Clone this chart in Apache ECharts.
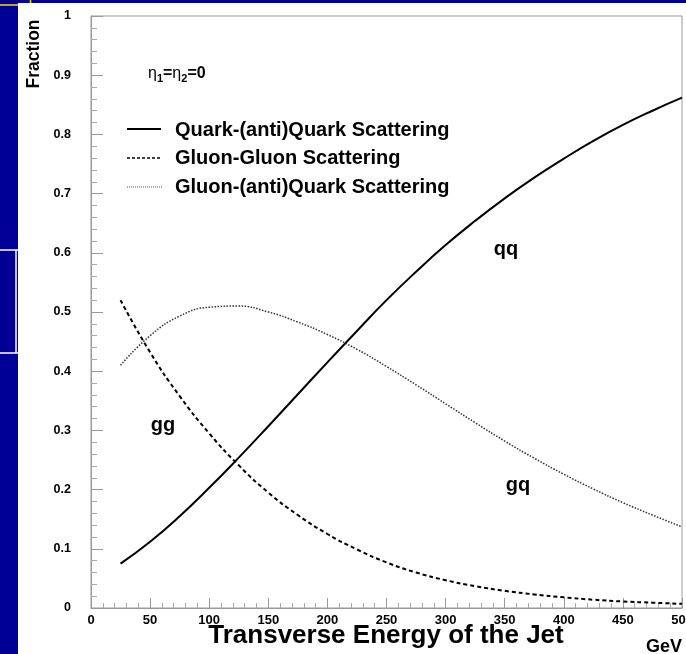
<!DOCTYPE html>
<html>
<head>
<meta charset="utf-8">
<script src="https://cdn.jsdelivr.net/npm/echarts@6/dist/echarts.min.js"></script>
<style>
  html, body { margin: 0; padding: 0; background: #000096; }
  #chart { width: 686px; height: 654px; }
</style>
</head>
<body>
<div id="chart"></div>
<script>
// transverse energy of the jet (GeV)
const energy = [25, 50, 75, 100, 125, 150, 175, 200, 225, 250, 275, 300, 325, 350, 375, 400, 425, 450, 475, 500]
// quark-(anti)quark fraction
const qqFrac = [0.075, 0.112, 0.155, 0.203, 0.254, 0.307, 0.361, 0.415, 0.468, 0.52, 0.568, 0.613, 0.654, 0.692, 0.727, 0.759, 0.789, 0.816, 0.84, 0.862]
// gluon-gluon fraction
const ggFrac = [0.52, 0.432, 0.358, 0.295, 0.241, 0.195, 0.157, 0.125, 0.099, 0.077, 0.06, 0.047, 0.037, 0.029, 0.023, 0.018, 0.014, 0.011, 0.009, 0.007]
// gluon-(anti)quark fraction
const gqFrac = [0.41, 0.46, 0.493, 0.508, 0.51, 0.5, 0.483, 0.462, 0.437, 0.408, 0.377, 0.345, 0.313, 0.282, 0.253, 0.226, 0.201, 0.178, 0.157, 0.137]

const legendNames = ['Quark-(anti)Quark Scattering', 'Gluon-Gluon Scattering', 'Gluon-(anti)Quark Scattering']

const font = 'Liberation Sans, Arial, Helvetica, sans-serif'

const pairs = (ys) => energy.map((x, i) => [x, ys[i]])

const chart = echarts.init(document.getElementById('chart'))

const textStyle = (extra) => Object.assign({
  fontFamily: font,
  fontWeight: 'bold',
  fill: '#000',
}, extra)

const option = {
  backgroundColor: '#000096',
  animation: false,
  grid: {
    left: 91,
    top: 16,
    right: 4,
    bottom: 46,
    containLabel: false,
    outerBoundsMode: 'none',
    show: true,
    backgroundColor: '#fff',
    borderColor: '#999',
    borderWidth: 1,
  },
  xAxis: {
    type: 'value',
    min: 0,
    max: 500,
    interval: 50,
    axisLine: { show: true, lineStyle: { color: '#999' } },
    axisTick: { show: true, inside: true, length: 10, lineStyle: { color: '#999' } },
    minorTick: { show: true, splitNumber: 5, length: 5, lineStyle: { color: '#aaa' } },
    splitLine: { show: false },
    axisLabel: {
      margin: 6,
      color: '#000',
      fontFamily: font,
      fontWeight: 'bold',
      fontSize: 13,
      showMaxLabel: true,
    },
  },
  yAxis: {
    type: 'value',
    min: 0,
    max: 1,
    interval: 0.1,
    axisLine: { show: true, lineStyle: { color: '#999' } },
    axisTick: { show: true, inside: true, length: 12, lineStyle: { color: '#999' } },
    minorTick: { show: true, splitNumber: 5, length: 6, lineStyle: { color: '#aaa' } },
    splitLine: { show: false },
    axisLabel: {
      margin: 20,
      color: '#000',
      fontFamily: font,
      fontWeight: 'bold',
      fontSize: 12.5,
    },
  },
  series: [
    {
      name: legendNames[0],
      type: 'line',
      data: pairs(qqFrac),
      smooth: 0.5,
      symbol: 'none',
      lineStyle: { color: '#000', width: 2 },
    },
    {
      name: legendNames[1],
      type: 'line',
      data: pairs(ggFrac),
      smooth: 0.5,
      symbol: 'none',
      lineStyle: { color: '#000', width: 2, type: [4, 3] },
    },
    {
      name: legendNames[2],
      type: 'line',
      data: pairs(gqFrac),
      smooth: 0.5,
      symbol: 'none',
      lineStyle: { color: '#333', width: 1.5, type: [1.5, 1.5] },
    },
  ],
  graphic: [
    // slide background pieces
    { type: 'rect', shape: { x: 18, y: 3, width: 668, height: 651 }, style: { fill: '#fff' }, z: -10 },
    { type: 'line', shape: { x1: 0, y1: 5, x2: 18, y2: 5 }, style: { stroke: '#ffd800', lineWidth: 1.5 } },
    { type: 'line', shape: { x1: 30.5, y1: 0, x2: 30.5, y2: 3 }, style: { stroke: '#ffd800', lineWidth: 1.5 } },
    { type: 'line', shape: { x1: 0, y1: 250, x2: 18, y2: 250 }, style: { stroke: '#fff', lineWidth: 1.5 } },
    { type: 'line', shape: { x1: 0, y1: 353, x2: 18, y2: 353 }, style: { stroke: '#fff', lineWidth: 1.5 } },
    { type: 'line', shape: { x1: 16, y1: 250, x2: 16, y2: 353 }, style: { stroke: '#fff', lineWidth: 1.5 } },

    // axis titles
    {
      type: 'text', x: 34, y: 54, rotation: Math.PI / 2,
      style: textStyle({ text: 'Fraction', fontSize: 17.5, align: 'center', verticalAlign: 'middle' }),
    },
    {
      type: 'text', x: 386, y: 636,
      style: textStyle({ text: 'Transverse Energy of the Jet', fontSize: 26, align: 'center', verticalAlign: 'middle' }),
    },
    {
      type: 'text', x: 682, y: 647,
      style: textStyle({ text: 'GeV', fontSize: 18, align: 'right', verticalAlign: 'middle' }),
    },

    // eta annotation
    {
      type: 'text', x: 148, y: 74,
      style: {
        text: '{e|η}{s|1}{b|=}{e|η}{s|2}{b|=0}',
        verticalAlign: 'middle',
        rich: {
          e: { fontFamily: font, fontSize: 16, lineHeight: 20, fill: '#000', verticalAlign: 'middle' },
          s: { fontFamily: font, fontSize: 11, lineHeight: 20, fontWeight: 'bold', fill: '#000', verticalAlign: 'bottom' },
          b: { fontFamily: font, fontSize: 16, lineHeight: 20, fontWeight: 'bold', fill: '#000', verticalAlign: 'middle' },
        },
      },
    },

    // legend samples
    { type: 'line', shape: { x1: 127, y1: 129, x2: 161, y2: 129 }, style: { stroke: '#000', lineWidth: 2 } },
    { type: 'line', shape: { x1: 127, y1: 158, x2: 161, y2: 158 }, style: { stroke: '#000', lineWidth: 1.5, lineDash: [3, 2] } },
    { type: 'line', shape: { x1: 127, y1: 187, x2: 163, y2: 187 }, style: { stroke: '#555', lineWidth: 1, lineDash: [1, 1] } },
    { type: 'text', x: 175, y: 130, style: textStyle({ text: legendNames[0], fontSize: 20, verticalAlign: 'middle' }) },
    { type: 'text', x: 175, y: 158, style: textStyle({ text: legendNames[1], fontSize: 20, verticalAlign: 'middle' }) },
    { type: 'text', x: 175, y: 187, style: textStyle({ text: legendNames[2], fontSize: 20, verticalAlign: 'middle' }) },

    // curve labels
    { type: 'text', x: 506, y: 249, style: textStyle({ text: 'qq', fontSize: 20, align: 'center', verticalAlign: 'middle' }) },
    { type: 'text', x: 163, y: 425, style: textStyle({ text: 'gg', fontSize: 20, align: 'center', verticalAlign: 'middle' }) },
    { type: 'text', x: 518, y: 485, style: textStyle({ text: 'gq', fontSize: 20, align: 'center', verticalAlign: 'middle' }) },
  ],
}

chart.setOption(option)
</script>
</body>
</html>
